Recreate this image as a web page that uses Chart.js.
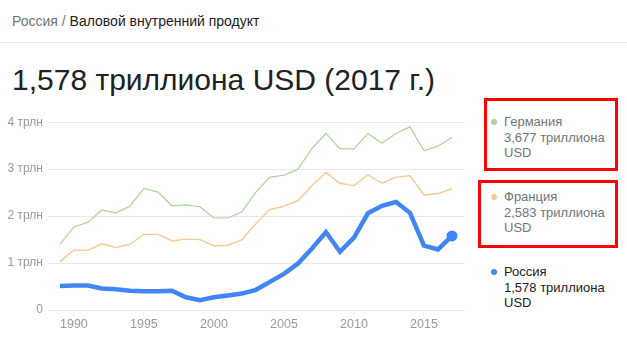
<!DOCTYPE html>
<html lang="ru">
<head>
<meta charset="utf-8">
<title>Валовой внутренний продукт</title>
<script src="https://cdn.jsdelivr.net/npm/chart.js@4/dist/chart.umd.min.js"></script>
<style>
  html, body { margin: 0; padding: 0; background: #fff; }
  body { width: 627px; height: 350px; position: relative; overflow: hidden;
         font-family: Arial, "Liberation Sans", sans-serif; }
  .crumbs { position: absolute; left: 12px; top: 13px; font-size: 14px; line-height: 16px; color: #202124; white-space: nowrap; }
  .crumbs .muted { color: #70757a; }
  .sep { position: absolute; left: 0; top: 42px; width: 627px; height: 1px; background: #e8e8e8; }
  .headline { position: absolute; left: 12px; top: 65px; font-size: 30px; line-height: 30px; color: #202124; white-space: nowrap; }
  #wrap { position: absolute; left: 0; top: 110px; width: 475px; height: 226px; }
  .legend-item { position: absolute; left: 504px; font-size: 13px; line-height: 15.5px; white-space: nowrap; }
  .legend-item .dot { position: absolute; left: -13px; top: 5px; width: 6px; height: 6px; border-radius: 50%; }
  .mark { position: absolute; border: 3px solid #ff0000; box-sizing: border-box; }
</style>
</head>
<body>
<div class="crumbs"><span class="muted">Россия</span><span class="muted"> / </span>Валовой внутренний продукт</div>
<div class="sep"></div>
<div class="headline">1,578 триллиона USD (2017 г.)</div>

<div id="wrap"><canvas id="gdp"></canvas></div>

<div id="legend"></div>
<div class="mark" style="left:484px; top:98px; width:134px; height:73px;"></div>
<div class="mark" style="left:478px; top:180px; width:140px; height:68px;"></div>

<script>
// Years and GDP, trillions of US dollars
const years = [1989, 1990, 1991, 1992, 1993, 1994, 1995, 1996, 1997, 1998,
               1999, 2000, 2001, 2002, 2003, 2004, 2005, 2006, 2007, 2008,
               2009, 2010, 2011, 2012, 2013, 2014, 2015, 2016, 2017];

const germany = [1.40, 1.77, 1.87, 2.13, 2.07, 2.21, 2.59, 2.51, 2.22, 2.24,
                 2.20, 1.96, 1.96, 2.09, 2.51, 2.83, 2.87, 3.00, 3.44, 3.76,
                 3.43, 3.43, 3.76, 3.55, 3.76, 3.90, 3.39, 3.49, 3.677];

const france = [1.03, 1.28, 1.27, 1.41, 1.33, 1.40, 1.61, 1.61, 1.47, 1.51,
                1.50, 1.37, 1.38, 1.50, 1.84, 2.14, 2.21, 2.33, 2.65, 2.93,
                2.70, 2.65, 2.88, 2.70, 2.83, 2.86, 2.45, 2.48, 2.583];

const russia = [0.51, 0.52, 0.52, 0.46, 0.44, 0.41, 0.40, 0.40, 0.41, 0.27,
                0.21, 0.27, 0.31, 0.35, 0.43, 0.60, 0.77, 0.99, 1.31, 1.66,
                1.24, 1.54, 2.06, 2.22, 2.30, 2.07, 1.37, 1.29, 1.578];

const xTickYears = [1990, 1995, 2000, 2005, 2010, 2015];
const yTickValues = [0, 1, 2, 3, 4];
const yTickLabels = ['0', '1 трлн', '2 трлн', '3 трлн', '4 трлн'];

const seriesNames = ['Германия', 'Франция', 'Россия'];
const seriesLatest = ['3,677 триллиона', '2,583 триллиона', '1,578 триллиона'];

const COLORS = { germany: '#a9d49a', france: '#f9c995', russia: '#4285f4' };
const GRID = '#e9e9e9';
const TICK_TEXT = '#9a9a9a';

const toPoints = vals => years.map((yr, i) => ({ x: yr, y: vals[i] }));
const lastIdx = years.length - 1;

new Chart(document.getElementById('gdp'), {
  type: 'line',
  data: {
    datasets: [
      {
        label: seriesNames[2],
        data: toPoints(russia),
        borderColor: COLORS.russia,
        backgroundColor: COLORS.russia,
        borderWidth: 4.5,
        pointRadius: ctx => ctx.dataIndex === lastIdx ? 5.5 : 0,
        pointHoverRadius: 0,
        pointBorderWidth: 0,
        tension: 0,
        order: 0
      },
      {
        label: seriesNames[1],
        data: toPoints(france),
        borderColor: COLORS.france,
        borderWidth: 1.4,
        pointRadius: 0,
        tension: 0,
        order: 1
      },
      {
        label: seriesNames[0],
        data: toPoints(germany),
        borderColor: COLORS.germany,
        borderWidth: 1.2,
        pointRadius: 0,
        tension: 0,
        order: 2
      }
    ]
  },
  options: {
    responsive: true,
    maintainAspectRatio: false,
    animation: false,
    clip: false,
    layout: { padding: { top: 11, right: 10, left: 0, bottom: 0 } },
    plugins: { legend: { display: false }, tooltip: { enabled: false } },
    scales: {
      x: {
        type: 'linear',
        min: 1988.15,
        max: 2017.93,
        afterBuildTicks: axis => { axis.ticks = xTickYears.map(v => ({ value: v })); },
        afterFit: axis => { axis.height = 26; },
        border: { display: false },
        grid: { drawOnChartArea: false, drawTicks: true, tickLength: 6, color: GRID },
        ticks: {
          padding: 1,
          color: TICK_TEXT,
          font: { family: 'Arial, "Liberation Sans", sans-serif', size: 12.5 },
          maxRotation: 0,
          callback: v => String(v)
        }
      },
      y: {
        min: 0,
        max: 4,
        afterBuildTicks: axis => { axis.ticks = yTickValues.map(v => ({ value: v })); },
        afterFit: axis => { axis.width = 48; },
        border: { display: false },
        grid: { drawTicks: false, color: GRID },
        ticks: {
          padding: 5,
          color: TICK_TEXT,
          font: { family: 'Arial, "Liberation Sans", sans-serif', size: 12 },
          callback: v => yTickLabels[yTickValues.indexOf(v)]
        }
      }
    }
  }
});

// Series list at the right: name and latest value for each country
const legendRows = [
  { name: seriesNames[0], value: seriesLatest[0], color: COLORS.germany, text: '#70757a', top: 114 },
  { name: seriesNames[1], value: seriesLatest[1], color: COLORS.france, text: '#70757a', top: 189 },
  { name: seriesNames[2], value: seriesLatest[2], color: COLORS.russia, text: '#202124', top: 264 }
];
const legend = document.getElementById('legend');
legendRows.forEach(r => {
  const item = document.createElement('div');
  item.className = 'legend-item';
  item.style.top = r.top + 'px';
  item.style.color = r.text;
  item.innerHTML = '<span class="dot" style="background:' + r.color + '"></span>' +
                   r.name + '<br>' + r.value + '<br>USD';
  legend.appendChild(item);
});
</script>
</body>
</html>
